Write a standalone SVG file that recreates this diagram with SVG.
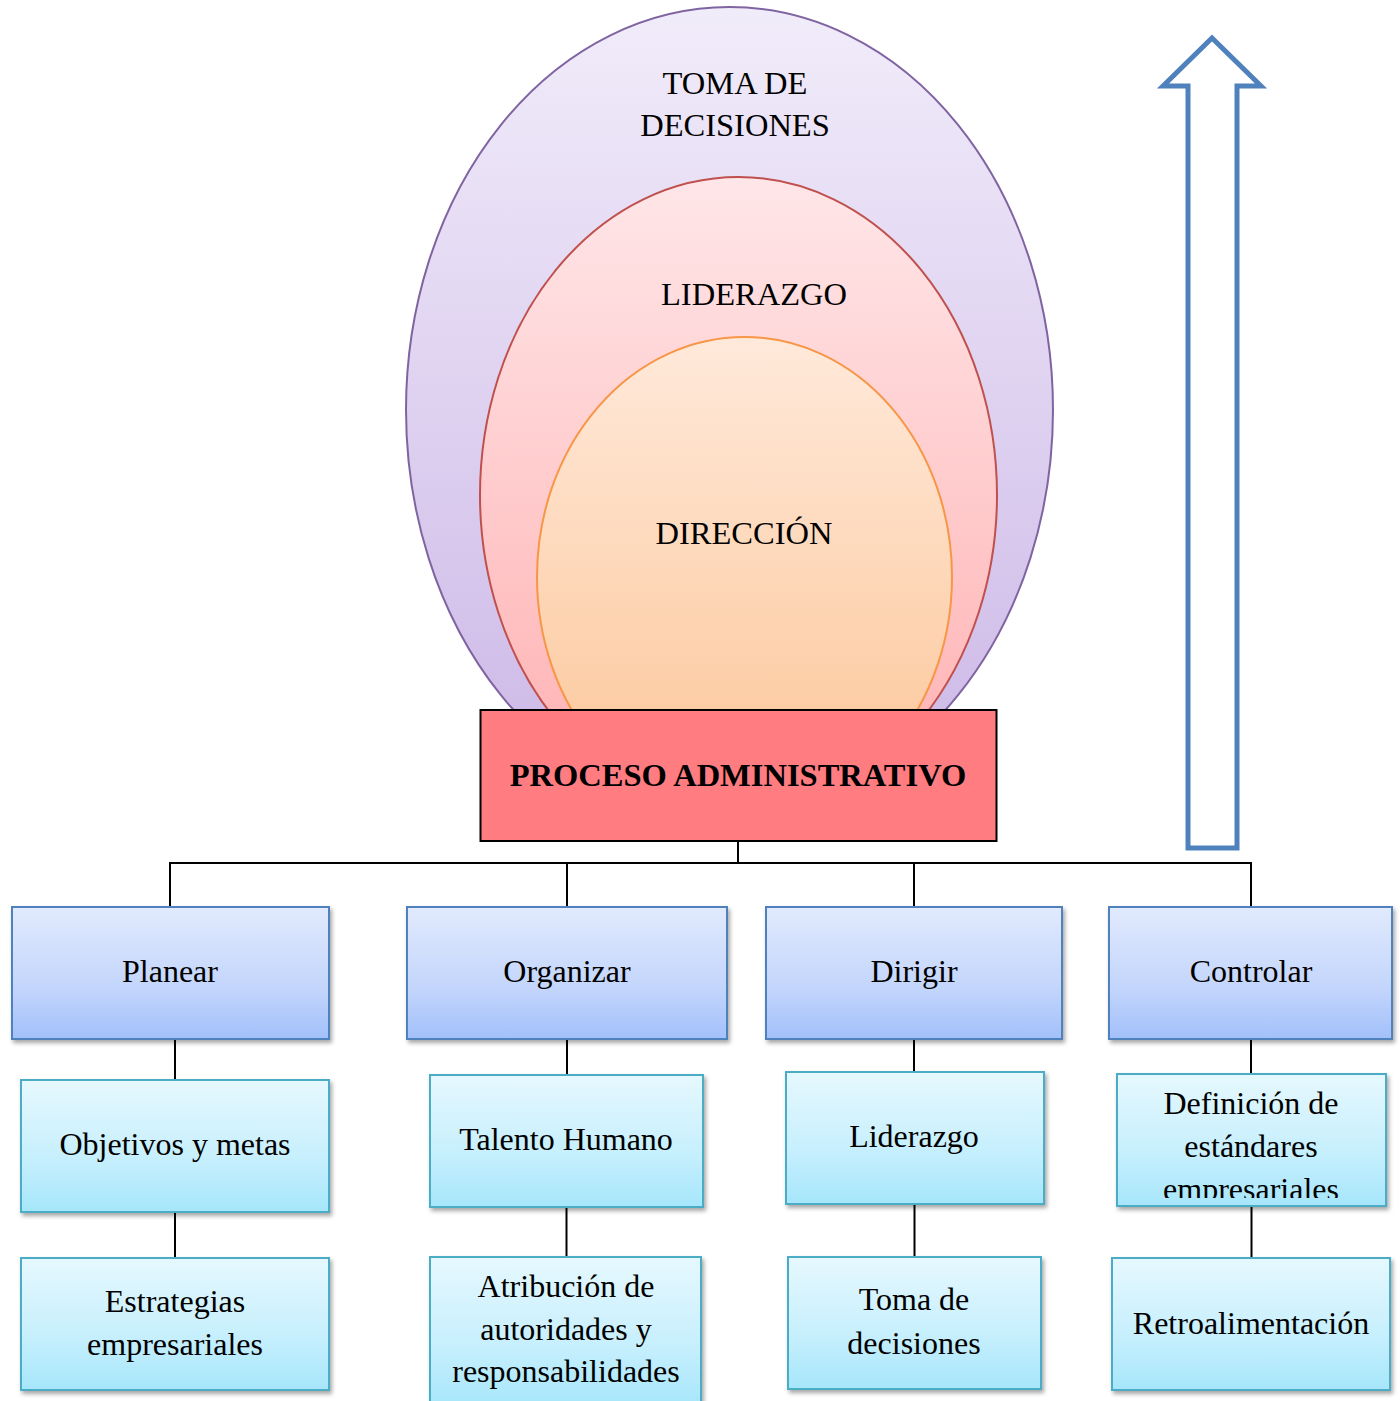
<svg xmlns="http://www.w3.org/2000/svg" width="1400" height="1401" viewBox="0 0 1400 1401">
  <defs>
    <linearGradient id="gPurple" x1="0" y1="0" x2="0" y2="1">
      <stop offset="0" stop-color="#F1ECFA"/>
      <stop offset="1" stop-color="#CBB6E6"/>
    </linearGradient>
    <linearGradient id="gPink" x1="0" y1="0" x2="0" y2="1">
      <stop offset="0" stop-color="#FFE6E8"/>
      <stop offset="1" stop-color="#FFAFB0"/>
    </linearGradient>
    <linearGradient id="gPeach" x1="0" y1="0" x2="0" y2="1">
      <stop offset="0" stop-color="#FFE9DA"/>
      <stop offset="1" stop-color="#FCC596"/>
    </linearGradient>
    <linearGradient id="gBlue" x1="0" y1="0" x2="0" y2="1">
      <stop offset="0" stop-color="#E1EAFD"/>
      <stop offset="0.6" stop-color="#C4D6FC"/>
      <stop offset="1" stop-color="#A2C0FA"/>
    </linearGradient>
    <linearGradient id="gCyan" x1="0" y1="0" x2="0" y2="1">
      <stop offset="0" stop-color="#E6F8FE"/>
      <stop offset="0.6" stop-color="#C6EFFD"/>
      <stop offset="1" stop-color="#A6E6FB"/>
    </linearGradient>
    <filter id="shadow" x="-5%" y="-5%" width="115%" height="120%">
      <feDropShadow dx="2" dy="3" stdDeviation="2" flood-color="#000" flood-opacity="0.35"/>
    </filter>
    <clipPath id="clipDef">
      <rect x="1117" y="1074" width="269" height="124"/>
    </clipPath>
  </defs>
  <style>
    text { font-family: "Liberation Serif", "Times New Roman", serif; fill: #000; text-anchor: middle; }
    .t28 { font-size: 32px; }
    .t30 { font-size: 32.5px; }
    .bold { font-size: 32.5px; font-weight: bold; }
    .lvl1 { fill: url(#gBlue); stroke: #4F81BD; stroke-width: 2; filter: url(#shadow); }
    .lvl2 { fill: url(#gCyan); stroke: #4BACC6; stroke-width: 2; filter: url(#shadow); }
    .conn { fill: none; stroke: #000; stroke-width: 2; }
  </style>

  <!-- nested ellipses above the main process box -->
  <g id="toma-de-decisiones">
    <ellipse cx="729.5" cy="410" rx="323.5" ry="403" fill="url(#gPurple)" stroke="#8064A2" stroke-width="2"/>
    <text class="t30" x="735" y="94">TOMA DE</text>
    <text class="t30" x="735" y="136">DECISIONES</text>
  </g>
  <g id="liderazgo-ellipse">
    <ellipse cx="738.5" cy="495" rx="258.5" ry="318" fill="url(#gPink)" stroke="#C0504D" stroke-width="2"/>
    <text class="t30" x="754" y="305">LIDERAZGO</text>
  </g>
  <g id="direccion">
    <ellipse cx="744.5" cy="577" rx="207.5" ry="240" fill="url(#gPeach)" stroke="#F79646" stroke-width="2"/>
    <text class="t30" x="744" y="544">DIRECCIÓN</text>
  </g>

  <!-- upward arrow -->
  <g id="flecha">
    <path d="M1212,38 L1261,86 L1237,86 L1237,848 L1188,848 L1188,86 L1163,86 Z" fill="#FFFFFF" stroke="#4F81BD" stroke-width="5" stroke-linejoin="miter"/>
  </g>

  <!-- connectors -->
  <g id="conectores">
    <path class="conn" d="M738,841 V863 M170,907 V863 H1251 V907 M567,863 V907 M914,863 V907"/>
    <path class="conn" d="M175,1039 V1080 M175,1212 V1258"/>
    <path class="conn" d="M567,1039 V1075 M566.5,1207 V1257"/>
    <path class="conn" d="M914,1039 V1072 M914.5,1204 V1257"/>
    <path class="conn" d="M1251,1039 V1074 M1251.5,1206 V1258"/>
  </g>

  <!-- main process box -->
  <g id="proceso-administrativo">
    <rect x="480.5" y="710" width="516" height="131" fill="#FF7C80" stroke="#000" stroke-width="2"/>
    <text class="bold" x="738" y="786">PROCESO ADMINISTRATIVO</text>
  </g>

  <!-- stages -->
  <g id="planear">
    <rect class="lvl1" x="12" y="907" width="317" height="132"/>
    <text class="t28" x="170" y="982">Planear</text>
  </g>
  <g id="organizar">
    <rect class="lvl1" x="407" y="907" width="320" height="132"/>
    <text class="t28" x="567" y="982">Organizar</text>
  </g>
  <g id="dirigir">
    <rect class="lvl1" x="766" y="907" width="296" height="132"/>
    <text class="t28" x="914" y="982">Dirigir</text>
  </g>
  <g id="controlar">
    <rect class="lvl1" x="1109" y="907" width="283" height="132"/>
    <text class="t28" x="1251" y="982">Controlar</text>
  </g>

  <!-- second row -->
  <g id="objetivos-y-metas">
    <rect class="lvl2" x="21" y="1080" width="308" height="132"/>
    <text class="t28" x="175" y="1155">Objetivos y metas</text>
  </g>
  <g id="talento-humano">
    <rect class="lvl2" x="430" y="1075" width="273" height="132"/>
    <text class="t28" x="566" y="1150">Talento Humano</text>
  </g>
  <g id="liderazgo">
    <rect class="lvl2" x="786" y="1072" width="258" height="132"/>
    <text class="t28" x="914" y="1147">Liderazgo</text>
  </g>
  <g id="definicion-de-estandares">
    <rect class="lvl2" x="1117" y="1074" width="269" height="132"/>
    <g clip-path="url(#clipDef)">
      <text class="t28" x="1251" y="1114">Definición de</text>
      <text class="t28" x="1251" y="1157">estándares</text>
      <text class="t28" x="1251" y="1200">empresariales</text>
    </g>
  </g>

  <!-- third row -->
  <g id="estrategias-empresariales">
    <rect class="lvl2" x="21" y="1258" width="308" height="132"/>
    <text class="t28" x="175" y="1312">Estrategias</text>
    <text class="t28" x="175" y="1355">empresariales</text>
  </g>
  <g id="atribucion-de-autoridades">
    <rect class="lvl2" x="430" y="1257" width="271" height="150"/>
    <text class="t28" x="566" y="1297">Atribución de</text>
    <text class="t28" x="566" y="1340">autoridades y</text>
    <text class="t28" x="566" y="1382">responsabilidades</text>
  </g>
  <g id="toma-de-decisiones-box">
    <rect class="lvl2" x="788" y="1257" width="253" height="132"/>
    <text class="t28" x="914" y="1310">Toma de</text>
    <text class="t28" x="914" y="1354">decisiones</text>
  </g>
  <g id="retroalimentacion">
    <rect class="lvl2" x="1112" y="1258" width="278" height="132"/>
    <text class="t28" x="1251" y="1334">Retroalimentación</text>
  </g>
</svg>
